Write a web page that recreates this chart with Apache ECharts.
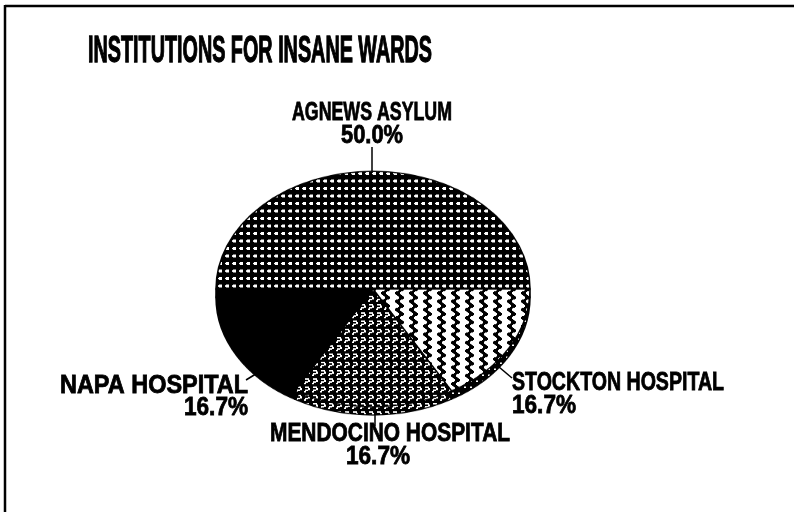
<!DOCTYPE html>
<html>
<head>
<meta charset="utf-8">
<script src="https://cdn.jsdelivr.net/npm/echarts@6/dist/echarts.min.js"></script>
<style>
  html, body { margin:0; padding:0; background:#fff; }
  #wrap { position:relative; width:794px; height:512px; overflow:hidden; background:#fff; }
  #pie { position:absolute; left:0; top:0; width:794px; height:512px; transform:scaleY(0.75); transform-origin:373px 289px; }
  #fg { position:absolute; left:0; top:0; width:794px; height:512px; }
</style>
</head>
<body>
<div id="wrap"><div id="pie"></div><div id="fg"></div></div>
<script>
// ---- data ----
const titleText = 'INSTITUTIONS FOR INSANE WARDS';
const categories = ['AGNEWS ASYLUM', 'STOCKTON HOSPITAL', 'MENDOCINO HOSPITAL', 'NAPA HOSPITAL'];
const wardCounts = [3, 1, 1, 1];

// ---- patterns ----
function makeCanvas(w, h, draw) {
  const c = document.createElement('canvas');
  c.width = w; c.height = h;
  const g = c.getContext('2d');
  draw(g, w, h);
  return c;
}
const patAgnews = makeCanvas(7, 10, (g) => {
  g.fillStyle = '#000'; g.fillRect(0, 0, 7, 10);
  g.fillStyle = '#fff'; g.fillRect(2, 3, 3, 4); g.fillRect(1, 4, 1, 2);
});
const patStockton = makeCanvas(14, 11, (g) => {
  g.fillStyle = '#fff'; g.fillRect(0, 0, 14, 11);
  g.fillStyle = '#000';
  for (let y = 0; y < 11; y++) {
    const off = 5 + 2.2 * Math.sin(2 * Math.PI * y / 11);
    g.fillRect(Math.round(off), y, 5, 1);
  }
});
const patMendocino = makeCanvas(8, 11, (g) => {
  g.fillStyle = '#000'; g.fillRect(0, 0, 8, 11);
  g.fillStyle = '#fff';
  g.fillRect(1, 1, 4, 2); g.fillRect(4, 3, 2, 3); g.fillRect(1, 5, 3, 2); g.fillRect(0, 7, 2, 2);
});
const patRim = makeCanvas(6, 8, (g) => {
  g.fillStyle = '#000'; g.fillRect(0, 0, 6, 8);
  g.fillStyle = '#fff'; g.fillRect(2, 3, 2, 2);
});
const topPatterns = [patAgnews, patStockton, patMendocino, '#000'];
const rimPatterns = [patAgnews, patRim, patMendocino, '#000'];

function fill(p) { return typeof p === 'string' ? p : { image: p, repeat: 'repeat' }; }

// ---- pie (drawn round, squashed into the tilted ellipse by the container) ----
const pie = echarts.init(document.getElementById('pie'), null, { renderer: 'canvas' });
const pieCommon = {
  type: 'pie', startAngle: 180, clockwise: true, radius: 157,
  label: { show: false }, labelLine: { show: false },
  silent: true, emphasis: { disabled: true }
};
pie.setOption({
  animation: false,
  series: [
    Object.assign({}, pieCommon, {
      center: [373, 300],
      itemStyle: { borderColor: '#000', borderWidth: 1.5 },
      data: categories.map((n, i) => ({ name: n, value: wardCounts[i], itemStyle: { color: fill(rimPatterns[i]) } }))
    }),
    Object.assign({}, pieCommon, {
      center: [373, 289],
      itemStyle: { borderColor: '#000', borderWidth: 1.5 },
      data: categories.map((n, i) => ({ name: n, value: wardCounts[i], itemStyle: { color: fill(topPatterns[i]) } }))
    })
  ]
});

// ---- text layer ----
const total = wardCounts.reduce((a, b) => a + b, 0);
const pct = wardCounts.map(v => (v / total * 100).toFixed(1) + '%');
const fg = echarts.init(document.getElementById('fg'), null, { renderer: 'canvas' });
const F = 'Liberation Sans, Arial, sans-serif';
const mctx = document.createElement('canvas').getContext('2d');
function txt(s, x, y, align, size, width, sw) {
  const font = 'bold ' + size + 'px ' + F;
  mctx.font = font;
  const sx = width / mctx.measureText(s).width;
  return { type: 'text', x: x, y: y, scaleX: sx, silent: true,
    style: { text: s, fill: '#000', stroke: '#000', lineWidth: sw || 0.8, font: font, textAlign: align, textVerticalAlign: 'middle' } };
}
function line(x1, y1, x2, y2, w) {
  return { type: 'line', silent: true, shape: { x1, y1, x2, y2 }, style: { stroke: '#000', lineWidth: w || 1.5 } };
}
const LS = 25;
fg.setOption({
  animation: false,
  graphic: [
    line(5, 6, 794, 6, 2.5),
    line(5, 5, 5, 512, 2.5),
    txt(titleText, 260, 52, 'center', 37, 344, 1.3),
    // Agnews
    txt(categories[0], 372, 113, 'center', LS, 160),
    txt(pct[0], 372, 136, 'center', LS, 62),
    line(372, 147, 372, 171),
    // Stockton
    txt(categories[1], 512, 383, 'left', LS, 212),
    txt(pct[1], 512, 406, 'left', LS, 64),
    line(499, 367, 512, 378),
    // Mendocino
    txt(categories[2], 390, 434, 'center', LS, 240),
    txt(pct[2], 378, 457, 'center', LS, 64),
    line(375, 413, 375, 426),
    // Napa
    txt(categories[3], 248, 386, 'right', LS, 188),
    txt(pct[3], 248, 408, 'right', LS, 64),
    line(246, 380, 259, 372)
  ]
});
</script>
</body>
</html>
